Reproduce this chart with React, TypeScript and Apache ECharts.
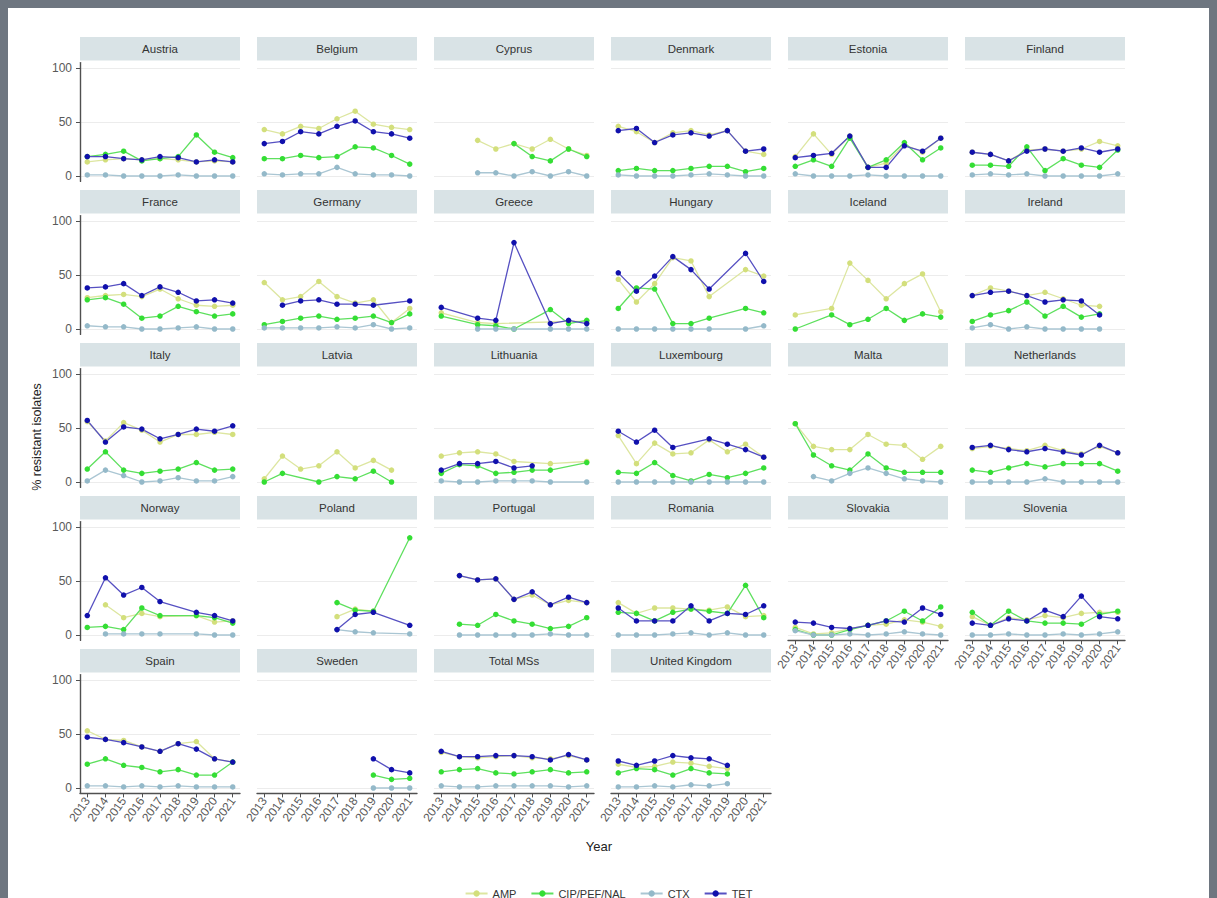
import React, { useEffect, useRef } from "react";
import * as echarts from "echarts";

const n = null;
const years = [2013, 2014, 2015, 2016, 2017, 2018, 2019, 2020, 2021];
const yTicks = [0, 50, 100];
const countries = [
  "Austria", "Belgium", "Cyprus", "Denmark", "Estonia", "Finland",
  "France", "Germany", "Greece", "Hungary", "Iceland", "Ireland",
  "Italy", "Latvia", "Lithuania", "Luxembourg", "Malta", "Netherlands",
  "Norway", "Poland", "Portugal", "Romania", "Slovakia", "Slovenia",
  "Spain", "Sweden", "Total MSs", "United Kingdom",
];
const drugNames = ["AMP", "CIP/PEF/NAL", "CTX", "TET"];

const amp = [
  [13, 15, 16, 15, 16, 15, 13, 14, 13],
  [43, 39, 46, 44, 53, 60, 48, 45, 43],
  [n, n, 33, 25, 30, 25, 34, 25, 19],
  [46, 41, 31, 40, 42, 38, 42, 23, 20],
  [18, 39, 20, 37, 8, 12, 29, 22, 35],
  [22, 20, 14, 24, 25, 23, 25, 32, 28],
  [29, 31, 32, 30, 37, 28, 22, 21, 22],
  [43, 27, 30, 44, 30, 24, 27, 6, 19],
  [15, n, 6, 5, n, n, n, 7, 7],
  [46, 25, 42, 66, 63, 30, n, 55, 49],
  [13, n, 19, 61, 45, 28, 42, 51, 16],
  [31, 38, 35, 31, 34, 28, 22, 21, n],
  [56, 38, 55, 48, 37, 44, 44, 46, 44],
  [3, 24, 12, 15, 28, 13, 20, 11, n],
  [24, 27, 28, 26, 19, n, 17, n, 19],
  [43, 17, 36, 26, 27, 39, 28, 35, 23],
  [54, 33, 30, 30, 44, 35, 34, 21, 33],
  [31, 33, 31, 29, 34, 29, 26, 33, 27],
  [n, 28, 16, 20, 17, n, 18, 12, 13],
  [n, n, n, n, 17, 24, 22, n, n],
  [n, 55, 51, 52, 33, 37, 28, 32, 30],
  [30, 20, 25, 25, 24, 23, 26, 17, 18],
  [7, 1, 2, 6, 9, 10, 14, 12, 8],
  [17, 9, 16, 14, 18, 16, 20, 21, 21],
  [53, 45, 44, 38, 34, 41, 43, 27, 24],
  [n, n, n, n, n, n, n, n, n],
  [33, 29, 28, 29, 30, 28, 27, 30, 26],
  [22, 19, 20, 24, 23, 20, 18, n, n],
];

const cip = [
  [18, 20, 23, 14, 16, 18, 38, 22, 17],
  [16, 16, 19, 17, 18, 27, 26, 19, 11],
  [n, n, n, n, 30, 18, 14, 25, 18],
  [5, 7, 5, 5, 7, 9, 9, 4, 7],
  [9, 15, 9, 35, 8, 15, 31, 15, 26],
  [10, 10, 9, 27, 5, 16, 10, 8, 24],
  [27, 29, 23, 10, 12, 21, 16, 12, 14],
  [4, 7, 10, 12, 9, 10, 12, 6, 14],
  [12, n, 4, 3, 0, n, 18, 5, 8],
  [19, 38, 37, 5, 5, 10, n, 19, 15],
  [0, n, 13, 4, 9, 19, 8, 14, 11],
  [7, 13, 17, 25, 12, 21, 11, 14, n],
  [12, 28, 11, 8, 10, 12, 18, 11, 12],
  [0, 8, n, 0, 5, 3, 10, 0, n],
  [8, 16, 15, 8, 9, 11, 11, n, 18],
  [9, 8, 18, 6, 1, 7, 4, 8, 13],
  [54, 25, 15, 11, 26, 13, 9, 9, 9],
  [11, 9, 13, 17, 14, 17, 17, 17, 10],
  [7, 8, 5, 25, 18, n, 18, 16, 11],
  [n, n, n, n, 30, 23, 22, n, 90],
  [n, 10, 9, 19, 13, 10, 6, 8, 16],
  [21, 20, 13, 21, 24, 22, 20, 46, 16],
  [5, 0, 0, 5, 9, 13, 22, 13, 26],
  [21, 9, 22, 13, 11, 11, 10, 19, 22],
  [22, 27, 21, 19, 15, 17, 12, 12, 24],
  [n, n, n, n, n, n, 12, 8, 9],
  [15, 17, 18, 14, 13, 15, 17, 14, 15],
  [14, 18, 17, 12, 18, 14, 13, n, n],
];

const ctx = [
  [1, 1, 0, 0, 0, 1, 0, 0, 0],
  [2, 1, 2, 2, 8, 2, 1, 1, 0],
  [n, n, 3, 3, 0, 4, 0, 4, 0],
  [1, 0, 0, 0, 1, 2, 1, 0, 0],
  [2, 0, 0, 0, 1, 0, 0, 0, 0],
  [1, 2, 1, 2, 0, 0, 0, 0, 2],
  [3, 2, 2, 0, 0, 1, 2, 0, 0],
  [1, 1, 1, 1, 2, 1, 4, 0, 1],
  [n, n, 0, 0, 0, n, 0, 0, 0],
  [0, 0, 0, 0, 0, 0, n, 0, 3],
  [n, n, n, n, n, n, n, n, n],
  [1, 4, 0, 2, 0, 0, 0, 0, n],
  [1, 11, 6, 0, 1, 4, 1, 1, 5],
  [n, n, n, n, n, n, n, n, n],
  [1, 0, 0, 1, 1, 1, 0, n, 0],
  [0, 0, 0, 0, 0, 0, 0, 0, 0],
  [n, 5, 1, 8, 13, 8, 3, 1, 0],
  [0, 0, 0, 0, 3, 0, 0, 0, 0],
  [n, 1, 1, 1, 1, n, 1, 0, 0],
  [n, n, n, n, 5, 3, 2, n, 1],
  [n, 0, 0, 0, 0, 0, 1, 0, 0],
  [0, 0, 0, 1, 2, 0, 2, 0, 0],
  [4, 0, 0, 1, 0, 1, 3, 1, 0],
  [0, 0, 1, 0, 0, 1, 0, 1, 3],
  [2, 2, 1, 2, 1, 2, 1, 1, 1],
  [n, n, n, n, n, n, 0, 0, 0],
  [2, 1, 1, 2, 2, 2, 2, 1, 2],
  [1, 1, 2, 1, 3, 2, 4, n, n],
];

const tet = [
  [18, 18, 16, 15, 18, 17, 13, 15, 13],
  [30, 32, 41, 39, 46, 51, 41, 39, 35],
  [n, n, n, n, n, n, n, n, n],
  [42, 44, 31, 38, 40, 37, 42, 23, 25],
  [17, 19, 21, 37, 8, 8, 28, 23, 35],
  [22, 20, 14, 23, 25, 23, 26, 22, 25],
  [38, 39, 42, 31, 39, 34, 26, 27, 24],
  [n, 22, 26, 27, 23, 23, 22, n, 26],
  [20, n, 10, 8, 80, n, 5, 8, 5],
  [52, 35, 49, 67, 55, 37, n, 70, 44],
  [n, n, n, n, n, n, n, n, n],
  [31, 34, 35, 31, 25, 27, 26, 13, n],
  [57, 37, 51, 49, 40, 44, 49, 47, 52],
  [n, n, n, n, n, n, n, n, n],
  [11, 17, 17, 19, 13, 15, n, n, n],
  [47, 37, 48, 32, n, 40, 35, 30, 23],
  [n, n, n, n, n, n, n, n, n],
  [32, 34, 30, 28, 31, 28, 25, 34, 27],
  [18, 53, 37, 44, 31, n, 21, 18, 13],
  [n, n, n, n, 5, 19, 21, n, 9],
  [n, 55, 51, 52, 33, 40, 28, 35, 30],
  [25, 13, 13, 13, 27, 13, 20, 19, 27],
  [12, 11, 7, 6, 9, 13, 12, 25, 19],
  [11, 9, 15, 13, 23, 17, 36, 17, 15],
  [47, 45, 42, 38, 34, 41, 36, 27, 24],
  [n, n, n, n, n, n, 27, 17, 14],
  [34, 29, 29, 30, 30, 29, 26, 31, 26],
  [25, 21, 25, 30, 28, 27, 21, n, n],
];

const drugData = [amp, cip, ctx, tet];
const pointColors = ["#d3df7c", "#34de34", "#94b9c9", "#1010ac"];
const lineColors = ["#dde6a0", "#5ee05e", "#aac6d3", "#5650c2"];

export default function App() {
  const ref = useRef<HTMLDivElement>(null);

  useEffect(() => {
    if (!ref.current) return;
    const chart = echarts.init(ref.current, null, { renderer: "svg" });

    const ncol = 6;
    const panelW = 160;
    const colStep = 177;
    const rowStep = 153;
    const left0 = 72;
    const plotTop0 = 54.6;
    const plotH = 118.8;
    const stripTop0 = 29;
    const stripH = 23.5;
    const axisColor = "#505050";
    const labelColor = "#595959";
    const font = "Liberation Sans, Arial, sans-serif";

    const grids: any[] = [];
    const xAxes: any[] = [];
    const yAxes: any[] = [];
    const series: any[] = [];
    const graphics: any[] = [];

    countries.forEach((name, i) => {
      const r = Math.floor(i / ncol);
      const c = i % ncol;
      const left = left0 + c * colStep;
      const top = plotTop0 + r * rowStep;
      const isBottom = i + ncol >= countries.length;
      const isLeft = c === 0;

      grids.push({ left, top, width: panelW, height: plotH, containLabel: false });

      xAxes.push({
        type: "value",
        gridIndex: i,
        min: 2012.6,
        max: 2021.4,
        axisLine: { show: isBottom, onZero: false, lineStyle: { color: axisColor, width: 1.4 } },
        axisTick: { show: isBottom, customValues: years, length: 4, lineStyle: { color: axisColor } },
        axisLabel: {
          show: isBottom,
          customValues: years,
          rotate: 55,
          margin: 5,
          fontSize: 12,
          color: labelColor,
          fontFamily: font,
          formatter: (v: number) => String(v),
        },
        splitLine: { show: false },
      });

      yAxes.push({
        type: "value",
        gridIndex: i,
        min: -5,
        max: 105,
        axisLine: { show: isLeft, onZero: false, lineStyle: { color: axisColor, width: 1.4 } },
        axisTick: { show: isLeft, customValues: yTicks, length: 4, lineStyle: { color: axisColor } },
        axisLabel: {
          show: isLeft,
          customValues: yTicks,
          margin: 8,
          fontSize: 12,
          color: labelColor,
          fontFamily: font,
        },
        splitLine: { show: true, lineStyle: { color: "#ececec", width: 1 } },
      });

      drugData.forEach((arr, d) => {
        const pts = years
          .map((y, k) => [y, arr[i][k]])
          .filter((p) => p[1] !== null && p[1] !== undefined);
        series.push({
          type: "line",
          name: drugNames[d],
          xAxisIndex: i,
          yAxisIndex: i,
          data: pts,
          symbol: "circle",
          symbolSize: 5.5,
          showSymbol: true,
          clip: false,
          lineStyle: { color: lineColors[d], width: 1.3 },
          itemStyle: { color: pointColors[d] },
          emphasis: { disabled: true },
        });
      });

      graphics.push({
        type: "rect",
        shape: { x: left, y: stripTop0 + r * rowStep, width: panelW, height: stripH },
        style: { fill: "#d9e3e6" },
        silent: true,
      });
      graphics.push({
        type: "text",
        x: left + panelW / 2,
        y: stripTop0 + r * rowStep + stripH / 2,
        style: {
          text: name,
          fill: "#333",
          fontSize: 11.5,
          fontFamily: font,
          align: "center",
          verticalAlign: "middle",
        },
        silent: true,
      });
    });

    graphics.push({
      type: "text",
      x: 29,
      y: 429,
      rotation: Math.PI / 2,
      style: {
        text: "% resistant isolates",
        fill: "#222",
        fontSize: 12.5,
        fontFamily: font,
        align: "center",
        verticalAlign: "middle",
      },
      silent: true,
    });
    graphics.push({
      type: "text",
      x: 591,
      y: 838,
      style: {
        text: "Year",
        fill: "#222",
        fontSize: 13,
        fontFamily: font,
        align: "center",
        verticalAlign: "middle",
      },
      silent: true,
    });

    chart.setOption({
      animation: false,
      backgroundColor: "#ffffff",
      textStyle: { fontFamily: font },
      grid: grids,
      xAxis: xAxes,
      yAxis: yAxes,
      series,
      legend: {
        data: drugNames,
        left: "center",
        top: 875,
        itemWidth: 22,
        itemHeight: 8,
        itemGap: 14,
        textStyle: { fontSize: 11, color: "#333", fontFamily: font },
      },
      graphic: graphics,
    });

    return () => chart.dispose();
  }, []);

  return (
    <div style={{ position: "fixed", left: 0, top: 0, right: 0, bottom: 0, background: "#6e7680" }}>
      <div
        ref={ref}
        style={{ position: "absolute", left: 8, top: 8, width: 1201, height: 890, background: "#ffffff" }}
      />
    </div>
  );
}
